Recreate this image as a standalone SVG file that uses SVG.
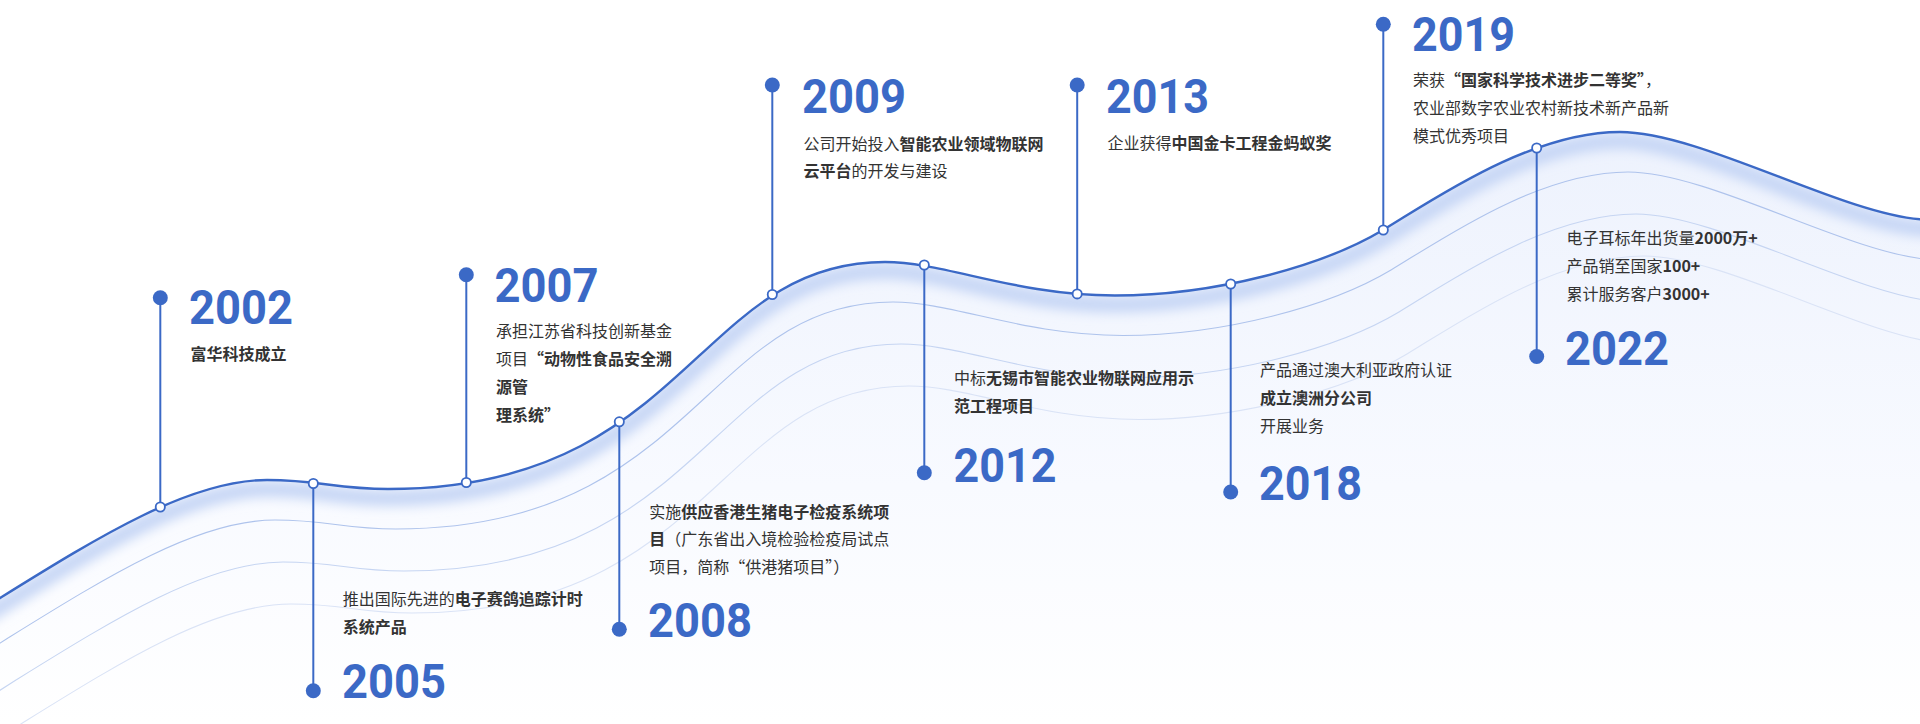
<svg xmlns="http://www.w3.org/2000/svg" width="1920" height="724" viewBox="0 0 1920 724">
<style>
.year{font-family:Roboto,"Liberation Sans",sans-serif;font-weight:700;font-size:48px;fill:#3b69c6}
.desc{font-family:"Noto Sans CJK SC","Noto Sans",sans-serif;font-size:16px;fill:#333}
.b{font-weight:700}
.stem{stroke:#3b69c6;stroke-width:2;fill:none}
.dot{fill:#3b69c6}
.node{fill:#fff;stroke:#3b69c6;stroke-width:1.8}
.sub{fill:none;stroke-width:1.1}
</style>
<defs>
<path id="wave" d="M-60,636.4 L0,598 C100,536 190,480 267,480 C320,480 335,489 388,489 C688,489 695,262 885,262 C945,262 1015,295.5 1115,295.5 C1215,295.5 1323,266 1383,230 C1433,200 1530,132 1620,132 C1700,132 1840,213 1920,219.3 L1980,222"/>
<linearGradient id="fillg" gradientUnits="userSpaceOnUse" x1="0" y1="130" x2="0" y2="724">
<stop offset="0" stop-color="#edf2fd"/>
<stop offset="0.6" stop-color="#f8faff"/>
<stop offset="1" stop-color="#ffffff"/>
</linearGradient>
<clipPath id="under">
<path d="M-60,636.4 L0,598 C100,536 190,480 267,480 C320,480 335,489 388,489 C688,489 695,262 885,262 C945,262 1015,295.5 1115,295.5 C1215,295.5 1323,266 1383,230 C1433,200 1530,132 1620,132 C1700,132 1840,213 1920,219.3 L1980,222 L1980,760 L-60,760 Z"/>
</clipPath>
<filter id="blur" x="-5%" y="-50%" width="110%" height="200%">
<feGaussianBlur stdDeviation="6"/>
</filter>
</defs>
<rect width="1920" height="724" fill="#ffffff"/>
<g id="wave-bg">
<path d="M-60,636.4 L0,598 C100,536 190,480 267,480 C320,480 335,489 388,489 C688,489 695,262 885,262 C945,262 1015,295.5 1115,295.5 C1215,295.5 1323,266 1383,230 C1433,200 1530,132 1620,132 C1700,132 1840,213 1920,219.3 L1980,222 L1980,760 L-60,760 Z" fill="url(#fillg)"/>
<g clip-path="url(#under)">
<use href="#wave" fill="none" stroke="#c6d6f5" stroke-width="16" filter="url(#blur)" transform="translate(0,9)"/>
</g>
<use href="#wave" class="sub" stroke="#aec3ec" transform="translate(8,40)"/>
<use href="#wave" class="sub" stroke="#c6d5f2" transform="translate(16,82)"/>
<use href="#wave" class="sub" stroke="#dae3f6" transform="translate(24,124)"/>
<use href="#wave" fill="none" stroke="#3b69c6" stroke-width="2.4"/>
</g>
<g id="connectors">
<line class="stem" x1="160.3" y1="297.7" x2="160.3" y2="507"/>
<line class="stem" x1="313.3" y1="483.5" x2="313.3" y2="690.7"/>
<line class="stem" x1="466.3" y1="274.7" x2="466.3" y2="482.5"/>
<line class="stem" x1="619.3" y1="421.8" x2="619.3" y2="629.3"/>
<line class="stem" x1="772.3" y1="85" x2="772.3" y2="294.5"/>
<line class="stem" x1="924.3" y1="265" x2="924.3" y2="472.7"/>
<line class="stem" x1="1077.2" y1="85" x2="1077.2" y2="293.9"/>
<line class="stem" x1="1230.7" y1="284" x2="1230.7" y2="492"/>
<line class="stem" x1="1383.3" y1="24.3" x2="1383.3" y2="230"/>
<line class="stem" x1="1536.7" y1="148" x2="1536.7" y2="356.5"/>
</g>
<g id="node-2002">
<circle class="dot" cx="160.3" cy="297.7" r="7.5"/>
<circle class="node" cx="160.3" cy="507" r="4.6"/>
<text class="year" x="189" y="324" textLength="104" lengthAdjust="spacingAndGlyphs">2002</text>
<text class="desc b" x="190.5" y="360">富华科技成立</text>
</g>
<g id="node-2005">
<circle class="dot" cx="313.3" cy="690.7" r="7.5"/>
<circle class="node" cx="313.3" cy="483.5" r="4.6"/>
<text class="desc" x="342.7" y="605"><tspan>推出国际先进的</tspan><tspan class="b">电子赛鸽追踪计时</tspan></text>
<text class="desc b" x="342.7" y="633.3">系统产品</text>
<text class="year" x="342" y="698.3" textLength="104" lengthAdjust="spacingAndGlyphs">2005</text>
</g>
<g id="node-2007">
<circle class="dot" cx="466.3" cy="274.7" r="7.5"/>
<circle class="node" cx="466.3" cy="482.5" r="4.6"/>
<text class="year" x="494.5" y="301.7" textLength="104" lengthAdjust="spacingAndGlyphs">2007</text>
<text class="desc" x="496" y="336.8">承担江苏省科技创新基金</text>
<text class="desc" x="496" y="364.8"><tspan>项目</tspan><tspan class="b">“动物性食品安全溯</tspan></text>
<text class="desc b" x="496" y="392.8">源管</text>
<text class="desc b" x="496" y="420.8">理系统”</text>
</g>
<g id="node-2008">
<circle class="dot" cx="619.3" cy="629.3" r="7.5"/>
<circle class="node" cx="619.3" cy="421.8" r="4.6"/>
<text class="desc" x="649.3" y="517.5"><tspan>实施</tspan><tspan class="b">供应香港生猪电子检疫系统项</tspan></text>
<text class="desc" x="649.3" y="545.3"><tspan class="b">目</tspan><tspan>（广东省出入境检验检疫局试点</tspan></text>
<text class="desc" x="649.3" y="573">项目，简称“供港猪项目”）</text>
<text class="year" x="648" y="636.7" textLength="104" lengthAdjust="spacingAndGlyphs">2008</text>
</g>
<g id="node-2009">
<circle class="dot" cx="772.3" cy="85" r="7.5"/>
<circle class="node" cx="772.3" cy="294.5" r="4.6"/>
<text class="year" x="802" y="112.7" textLength="104" lengthAdjust="spacingAndGlyphs">2009</text>
<text class="desc" x="803.5" y="149.5"><tspan>公司开始投入</tspan><tspan class="b">智能农业领域物联网</tspan></text>
<text class="desc" x="803.5" y="177"><tspan class="b">云平台</tspan><tspan>的开发与建设</tspan></text>
</g>
<g id="node-2012">
<circle class="dot" cx="924.3" cy="472.7" r="7.5"/>
<circle class="node" cx="924.3" cy="265" r="4.6"/>
<text class="desc" x="954" y="383.8"><tspan>中标</tspan><tspan class="b">无锡市智能农业物联网应用示</tspan></text>
<text class="desc b" x="954" y="411.8">范工程项目</text>
<text class="year" x="953.5" y="481.7" textLength="103" lengthAdjust="spacingAndGlyphs">2012</text>
</g>
<g id="node-2013">
<circle class="dot" cx="1077.2" cy="85" r="7.5"/>
<circle class="node" cx="1077.2" cy="293.9" r="4.6"/>
<text class="year" x="1106" y="113" textLength="103" lengthAdjust="spacingAndGlyphs">2013</text>
<text class="desc" x="1107.5" y="148.5"><tspan>企业获得</tspan><tspan class="b">中国金卡工程金蚂蚁奖</tspan></text>
</g>
<g id="node-2018">
<circle class="dot" cx="1230.7" cy="492" r="7.5"/>
<circle class="node" cx="1230.7" cy="284" r="4.6"/>
<text class="desc" x="1260" y="375.8">产品通过澳大利亚政府认证</text>
<text class="desc b" x="1260" y="403.8">成立澳洲分公司</text>
<text class="desc" x="1260" y="431.8">开展业务</text>
<text class="year" x="1259" y="500.3" textLength="103" lengthAdjust="spacingAndGlyphs">2018</text>
</g>
<g id="node-2019">
<circle class="dot" cx="1383.3" cy="24.3" r="7.5"/>
<circle class="node" cx="1383.3" cy="230" r="4.6"/>
<text class="year" x="1412" y="51" textLength="103" lengthAdjust="spacingAndGlyphs">2019</text>
<text class="desc" x="1413" y="85.5"><tspan>荣获</tspan><tspan class="b">“国家科学技术进步二等奖”</tspan><tspan>，</tspan></text>
<text class="desc" x="1413" y="113.5">农业部数字农业农村新技术新产品新</text>
<text class="desc" x="1413" y="141.5">模式优秀项目</text>
</g>
<g id="node-2022">
<circle class="dot" cx="1536.7" cy="356.5" r="7.5"/>
<circle class="node" cx="1536.7" cy="148" r="4.6"/>
<text class="desc" x="1566.5" y="243.5"><tspan>电子耳标年出货量</tspan><tspan class="b">2000万+</tspan></text>
<text class="desc" x="1566.5" y="271.5"><tspan>产品销至国家</tspan><tspan class="b">100+</tspan></text>
<text class="desc" x="1566.5" y="299.5"><tspan>累计服务客户</tspan><tspan class="b">3000+</tspan></text>
<text class="year" x="1565" y="365" textLength="104" lengthAdjust="spacingAndGlyphs">2022</text>
</g>
</svg>
